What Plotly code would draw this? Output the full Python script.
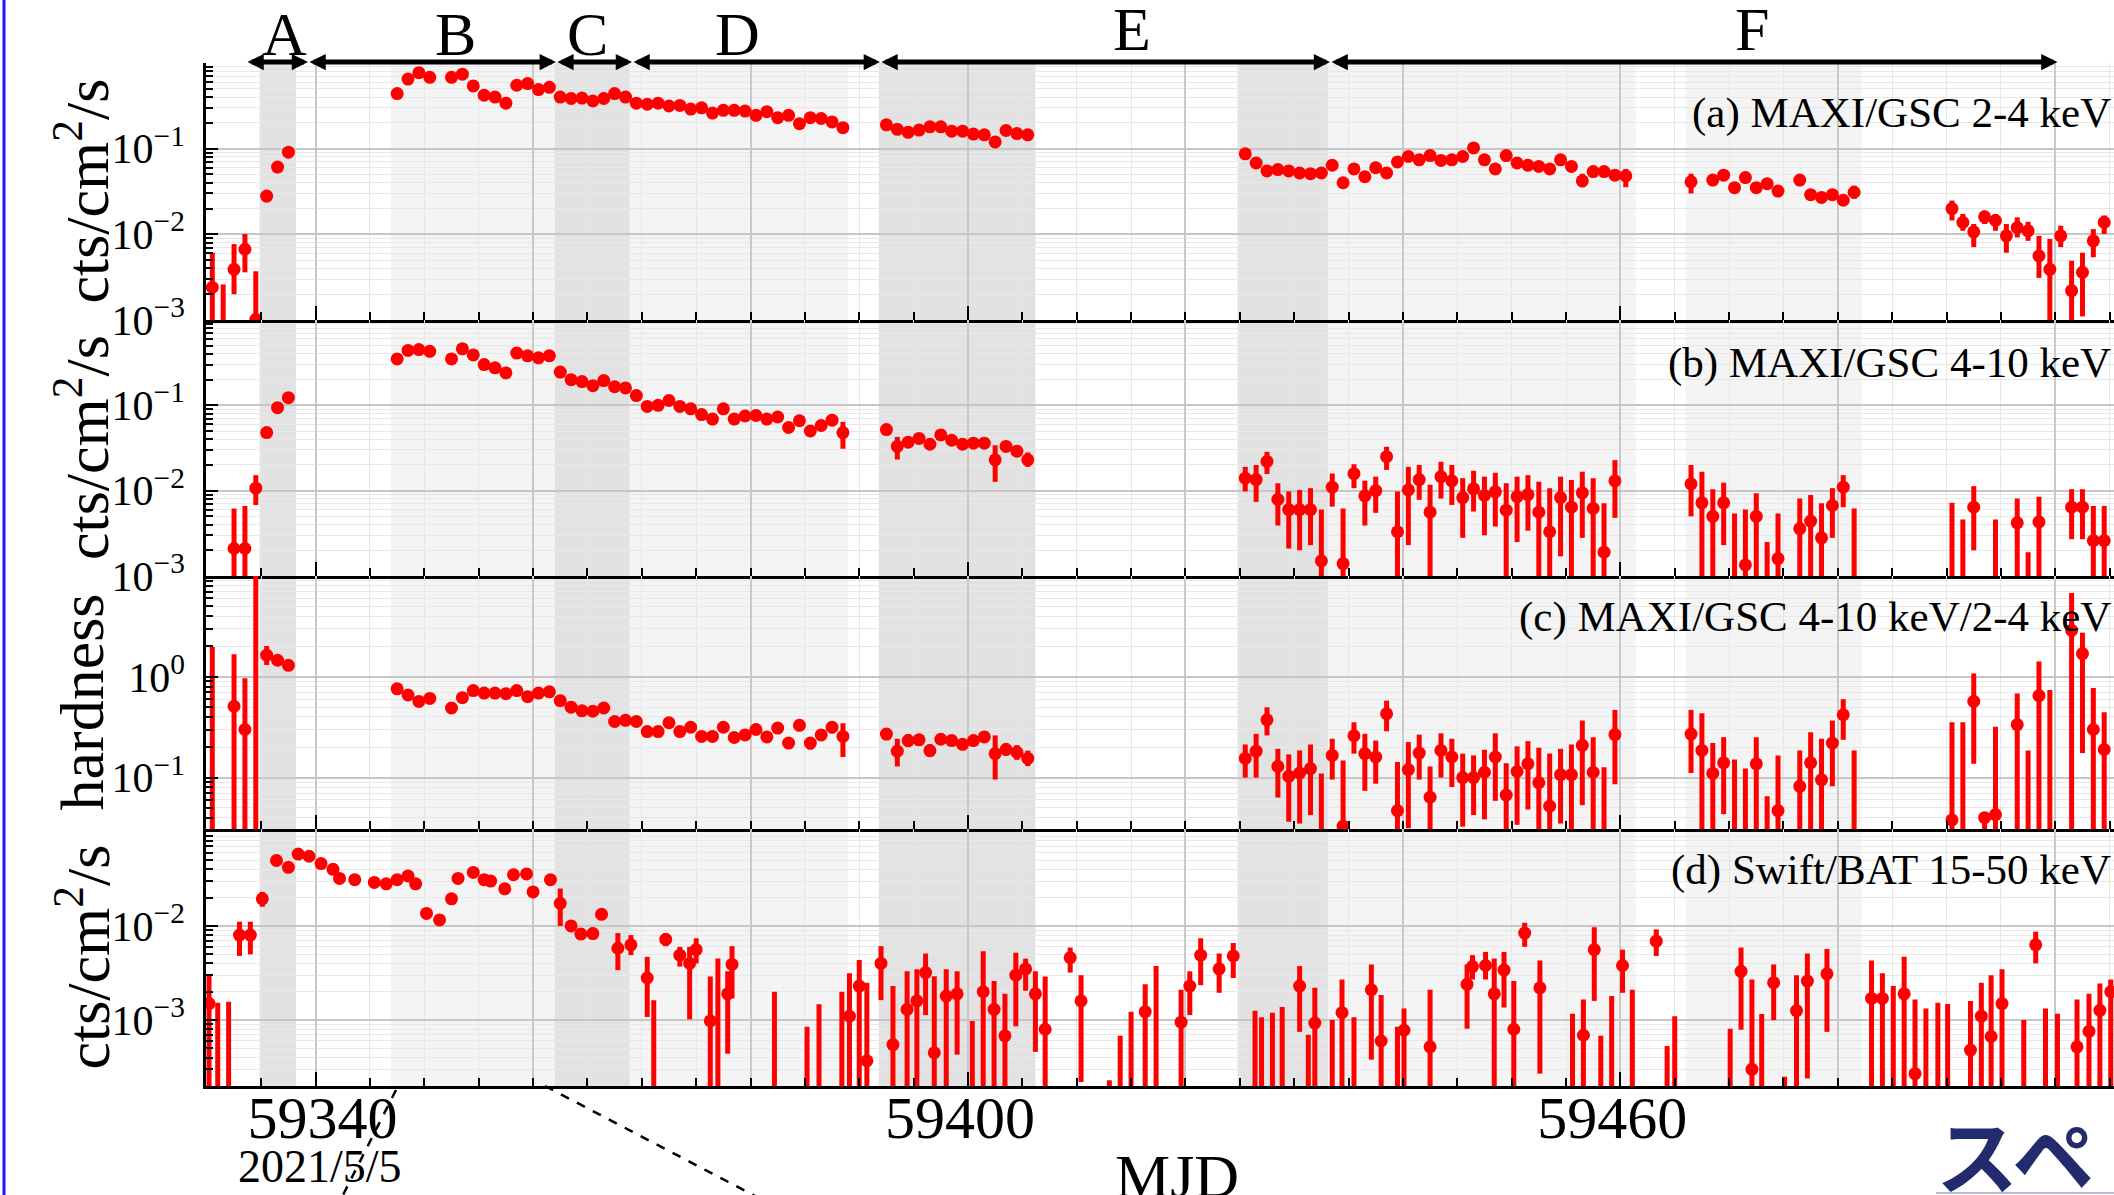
import plotly.graph_objects as go

# ---------------- data ----------------
# each tuple: (MJD, value, lower bound of error bar or None, upper bound or None)
a_pts = [
    (59330.5, 0.0024, 1e-4, 0.0061), (59331.5, 0.0007, 1e-4, 0.0026), (59332.5, 0.0039, 0.0020, 0.0077),
    (59333.5, 0.0067, 0.0036, 0.0101), (59334.5, 0.00102, 1e-4, 0.0037), (59335.5, 0.028, 0.0237, 0.032),
    (59336.5, 0.061, None, None), (59337.5, 0.091, None, None),
    (59347.5, 0.44, None, None), (59348.5, 0.65, None, None), (59349.5, 0.77, None, None),
    (59350.5, 0.68, None, None), (59352.5, 0.68, None, None), (59353.5, 0.74, None, None),
    (59354.5, 0.54, None, None), (59355.5, 0.42, None, None), (59356.5, 0.40, None, None),
    (59357.5, 0.34, None, None), (59358.5, 0.55, None, None), (59359.5, 0.575, None, None),
    (59360.5, 0.49, None, None), (59361.5, 0.52, None, None), (59362.5, 0.40, None, None),
    (59363.5, 0.385, None, None), (59364.5, 0.39, None, None), (59365.5, 0.36, None, None),
    (59366.5, 0.385, None, None), (59367.5, 0.44, None, None), (59368.5, 0.40, None, None),
    (59369.5, 0.34, None, None), (59370.5, 0.33, None, None), (59371.5, 0.34, None, None),
    (59372.5, 0.315, None, None), (59373.5, 0.32, None, None), (59374.5, 0.29, None, None),
    (59375.5, 0.30, None, None), (59376.5, 0.26, None, None), (59377.5, 0.28, None, None),
    (59378.5, 0.28, None, None), (59379.5, 0.275, None, None), (59380.5, 0.245, None, None),
    (59381.5, 0.27, None, None), (59382.5, 0.23, None, None), (59383.5, 0.245, None, None),
    (59384.5, 0.196, None, None), (59385.5, 0.23, None, None), (59386.5, 0.225, None, None),
    (59387.5, 0.205, None, None), (59388.5, 0.176, None, None),
    (59392.5, 0.19, None, None), (59393.5, 0.168, None, None), (59394.5, 0.155, None, None),
    (59395.5, 0.165, None, None), (59396.5, 0.18, None, None), (59397.5, 0.18, None, None),
    (59398.5, 0.16, None, None), (59399.5, 0.16, None, None), (59400.5, 0.148, None, None),
    (59401.5, 0.145, None, None), (59402.5, 0.12, None, None), (59403.5, 0.163, None, None),
    (59404.5, 0.15, None, None), (59405.5, 0.145, None, None),
    (59425.5, 0.087, None, None), (59426.5, 0.068, None, None), (59427.5, 0.055, None, None),
    (59428.5, 0.057, None, None), (59429.5, 0.055, None, None), (59430.5, 0.052, None, None),
    (59431.5, 0.051, None, None), (59432.5, 0.052, None, None), (59433.5, 0.064, None, None),
    (59434.5, 0.040, None, None), (59435.5, 0.058, None, None), (59436.5, 0.047, None, None),
    (59437.5, 0.060, None, None), (59438.5, 0.052, None, None), (59439.5, 0.070, None, None),
    (59440.5, 0.081, None, None), (59441.5, 0.074, None, None), (59442.5, 0.083, None, None),
    (59443.5, 0.073, None, None), (59444.5, 0.074, None, None), (59445.5, 0.081, None, None),
    (59446.5, 0.102, None, None), (59447.5, 0.074, None, None), (59448.5, 0.058, None, None),
    (59449.5, 0.083, None, None), (59450.5, 0.068, None, None), (59451.5, 0.064, None, None),
    (59452.5, 0.062, None, None), (59453.5, 0.058, 0.051, 0.066), (59454.5, 0.074, None, None),
    (59455.5, 0.062, None, None), (59456.5, 0.042, 0.0355, 0.051), (59457.5, 0.054, None, None),
    (59458.5, 0.054, None, None), (59459.5, 0.049, 0.044, 0.055), (59460.5, 0.048, 0.0355, 0.058),
    (59466.5, 0.041, 0.030, 0.051), (59468.5, 0.043, None, None), (59469.5, 0.049, None, None),
    (59470.5, 0.035, None, None), (59471.5, 0.046, None, None), (59472.5, 0.035, None, None),
    (59473.5, 0.039, None, None), (59474.5, 0.032, None, None), (59476.5, 0.043, None, None),
    (59477.5, 0.029, None, None), (59478.5, 0.027, None, None), (59479.5, 0.029, None, None),
    (59480.5, 0.025, None, None), (59481.5, 0.031, 0.026, 0.037),
    (59490.5, 0.020, 0.0145, 0.0248), (59491.5, 0.0138, 0.011, 0.0173), (59492.5, 0.0107, 0.0071, 0.0132),
    (59493.5, 0.016, 0.0132, 0.0189), (59494.5, 0.0145, 0.011, 0.0173), (59495.5, 0.0096, 0.0061, 0.0132),
    (59496.5, 0.012, 0.0092, 0.0158), (59497.5, 0.011, 0.0084, 0.014), (59498.5, 0.0056, 0.0031, 0.0096),
    (59499.5, 0.0039, 1e-4, 0.0088), (59500.5, 0.0096, 0.0071, 0.0126), (59501.5, 0.0022, 1e-4, 0.0049),
    (59502.5, 0.0036, 0.0011, 0.0061), (59503.5, 0.0084, 0.0054, 0.0115), (59504.5, 0.0138, 0.0101, 0.0166),
]

b_pts = [
    (59332.5, 0.0021, 1e-4, 0.0062), (59333.5, 0.0021, 1e-4, 0.0066), (59334.5, 0.0107, 0.0068, 0.0152),
    (59335.5, 0.048, None, None), (59336.5, 0.094, None, None), (59337.5, 0.123, None, None),
    (59347.5, 0.35, None, None), (59348.5, 0.44, None, None), (59349.5, 0.45, None, None),
    (59350.5, 0.43, None, None), (59352.5, 0.35, None, None), (59353.5, 0.46, None, None),
    (59354.5, 0.39, None, None), (59355.5, 0.30, None, None), (59356.5, 0.275, None, None),
    (59357.5, 0.24, None, None), (59358.5, 0.41, None, None), (59359.5, 0.38, None, None),
    (59360.5, 0.36, None, None), (59361.5, 0.38, None, None), (59362.5, 0.245, None, None),
    (59363.5, 0.20, None, None), (59364.5, 0.19, None, None), (59365.5, 0.17, None, None),
    (59366.5, 0.195, None, None), (59367.5, 0.165, None, None), (59368.5, 0.16, None, None),
    (59369.5, 0.13, None, None), (59370.5, 0.097, None, None), (59371.5, 0.10, None, None),
    (59372.5, 0.114, None, None), (59373.5, 0.097, None, None), (59374.5, 0.091, None, None),
    (59375.5, 0.078, None, None), (59376.5, 0.069, None, None), (59377.5, 0.091, None, None),
    (59378.5, 0.069, None, None), (59379.5, 0.075, None, None), (59380.5, 0.076, None, None),
    (59381.5, 0.069, None, None), (59382.5, 0.073, None, None), (59383.5, 0.055, 0.049, 0.062),
    (59384.5, 0.066, 0.059, 0.074), (59385.5, 0.050, 0.044, 0.057), (59386.5, 0.058, 0.052, 0.065),
    (59387.5, 0.067, 0.060, 0.075), (59388.5, 0.048, 0.031, 0.064),
    (59392.5, 0.052, 0.046, 0.059), (59393.5, 0.033, 0.0232, 0.0427), (59394.5, 0.037, 0.032, 0.043),
    (59395.5, 0.041, None, None), (59396.5, 0.035, 0.030, 0.041), (59397.5, 0.045, None, None),
    (59398.5, 0.039, None, None), (59399.5, 0.035, None, None), (59400.5, 0.036, None, None),
    (59401.5, 0.036, None, None), (59402.5, 0.023, 0.0127, 0.034), (59403.5, 0.033, 0.029, 0.038),
    (59404.5, 0.029, 0.025, 0.034), (59405.5, 0.023, 0.019, 0.028),
    (59425.5, 0.014, 0.0098, 0.019), (59426.5, 0.0135, 0.0074, 0.020), (59427.5, 0.022, 0.0157, 0.0285),
    (59428.5, 0.0079, 0.0039, 0.0122), (59429.5, 0.006, 0.0021, 0.0098), (59430.5, 0.006, 0.002, 0.0102),
    (59431.5, 0.006, 0.0023, 0.0107), (59432.5, 0.0015, 1e-4, 0.006), (59433.5, 0.011, 0.0065, 0.0159),
    (59434.5, 0.0014, 1e-4, 0.0062), (59435.5, 0.0158, 0.0107, 0.0204), (59436.5, 0.0087, 0.0039, 0.0131),
    (59437.5, 0.010, 0.0055, 0.0146), (59438.5, 0.025, 0.0175, 0.0327), (59439.5, 0.0033, 1e-4, 0.0098),
    (59440.5, 0.0102, 0.0023, 0.019), (59441.5, 0.0135, 0.0078, 0.020), (59442.5, 0.0056, 1e-4, 0.0117),
    (59443.5, 0.0146, 0.0081, 0.0218), (59444.5, 0.013, 0.0068, 0.020), (59445.5, 0.0083, 0.0028, 0.014),
    (59446.5, 0.0105, 0.0057, 0.0171), (59447.5, 0.0088, 0.003, 0.0146), (59448.5, 0.0097, 0.0038, 0.0162),
    (59449.5, 0.0059, 1e-4, 0.0122), (59450.5, 0.0085, 0.0025, 0.0146), (59451.5, 0.009, 0.0034, 0.0152),
    (59452.5, 0.0056, 1e-4, 0.0127), (59453.5, 0.0033, 1e-4, 0.0107), (59454.5, 0.0083, 0.0017, 0.0146),
    (59455.5, 0.0064, 1e-4, 0.0133), (59456.5, 0.0094, 0.0028, 0.0167), (59457.5, 0.0062, 1e-4, 0.014),
    (59458.5, 0.0019, 1e-4, 0.0071), (59459.5, 0.013, 0.0048, 0.0228),
    (59466.5, 0.012, 0.005, 0.020), (59467.5, 0.0072, 1e-4, 0.0167), (59468.5, 0.005, 1e-4, 0.0104),
    (59469.5, 0.0072, 0.0023, 0.0124), (59470.5, 0.0008, 1e-4, 0.0054), (59471.5, 0.00135, 1e-4, 0.006),
    (59472.5, 0.005, 1e-4, 0.0093), (59473.5, 0.0008, 1e-4, 0.0025), (59474.5, 0.0016, 1e-4, 0.0054),
    (59476.5, 0.0036, 1e-4, 0.0081), (59477.5, 0.0044, 1e-4, 0.0089), (59478.5, 0.0028, 1e-4, 0.0071),
    (59479.5, 0.0067, 0.0028, 0.0107), (59480.5, 0.011, 0.0064, 0.0152), (59481.5, 0.0008, 1e-4, 0.0062),
    (59490.5, 0.0008, 1e-4, 0.0072), (59491.5, 0.0008, 1e-4, 0.0046), (59492.5, 0.0064, 0.002, 0.0113),
    (59494.5, 0.0008, 1e-4, 0.0046), (59496.5, 0.0042, 1e-4, 0.0081), (59497.5, 0.0005, 1e-4, 0.0019),
    (59498.5, 0.0043, 1e-4, 0.0085), (59501.5, 0.0064, 0.0027, 0.0104), (59502.5, 0.0064, 0.0027, 0.0104),
    (59503.5, 0.0026, 1e-4, 0.0066), (59504.5, 0.0026, 1e-4, 0.0066),
]

c_pts = [
    (59330.5, 0.02, 0.001, 1.98), (59332.5, 0.51, 0.001, 1.67), (59333.5, 0.30, 0.001, 0.97),
    (59334.5, 20.0, 0.001, 100.0), (59335.5, 1.64, 1.31, 2.02), (59336.5, 1.46, None, None),
    (59337.5, 1.30, None, None),
    (59347.5, 0.76, None, None), (59348.5, 0.66, None, None), (59349.5, 0.57, None, None),
    (59350.5, 0.61, None, None), (59352.5, 0.49, None, None), (59353.5, 0.62, None, None),
    (59354.5, 0.73, None, None), (59355.5, 0.69, None, None), (59356.5, 0.69, None, None),
    (59357.5, 0.68, None, None), (59358.5, 0.73, None, None), (59359.5, 0.635, None, None),
    (59360.5, 0.69, None, None), (59361.5, 0.71, None, None), (59362.5, 0.58, None, None),
    (59363.5, 0.50, None, None), (59364.5, 0.46, None, None), (59365.5, 0.455, None, None),
    (59366.5, 0.49, None, None), (59367.5, 0.36, None, None), (59368.5, 0.37, None, None),
    (59369.5, 0.36, None, None), (59370.5, 0.286, None, None), (59371.5, 0.286, None, None),
    (59372.5, 0.35, None, None), (59373.5, 0.286, None, None), (59374.5, 0.316, None, None),
    (59375.5, 0.256, None, None), (59376.5, 0.256, None, None), (59377.5, 0.316, None, None),
    (59378.5, 0.25, None, None), (59379.5, 0.265, None, None), (59380.5, 0.30, None, None),
    (59381.5, 0.253, None, None), (59382.5, 0.31, None, None), (59383.5, 0.22, 0.195, 0.25),
    (59384.5, 0.33, 0.29, 0.37), (59385.5, 0.22, 0.19, 0.25), (59386.5, 0.265, 0.235, 0.30),
    (59387.5, 0.316, 0.275, 0.36), (59388.5, 0.256, 0.16, 0.346),
    (59392.5, 0.27, 0.235, 0.31), (59393.5, 0.183, 0.129, 0.243), (59394.5, 0.233, 0.2, 0.27),
    (59395.5, 0.237, None, None), (59396.5, 0.185, 0.16, 0.215), (59397.5, 0.24, None, None),
    (59398.5, 0.233, None, None), (59399.5, 0.214, None, None), (59400.5, 0.233, None, None),
    (59401.5, 0.253, None, None), (59402.5, 0.173, 0.0956, 0.262), (59403.5, 0.19, 0.165, 0.22),
    (59404.5, 0.178, 0.15, 0.21), (59405.5, 0.155, 0.13, 0.185),
    (59425.5, 0.155, 0.1, 0.213), (59426.5, 0.183, 0.1, 0.272), (59427.5, 0.374, 0.262, 0.498),
    (59428.5, 0.129, 0.0634, 0.193), (59429.5, 0.103, 0.0365, 0.17), (59430.5, 0.111, 0.035, 0.186),
    (59431.5, 0.123, 0.0425, 0.213), (59432.5, 0.02, 0.001, 0.11), (59433.5, 0.166, 0.0956, 0.243),
    (59434.5, 0.033, 0.001, 0.148), (59435.5, 0.26, 0.173, 0.354), (59436.5, 0.173, 0.0738, 0.272),
    (59437.5, 0.16, 0.087, 0.233), (59438.5, 0.43, 0.288, 0.58), (59439.5, 0.047, 0.001, 0.1426),
    (59440.5, 0.12, 0.0315, 0.225), (59441.5, 0.175, 0.0956, 0.267), (59442.5, 0.064, 0.001, 0.129),
    (59443.5, 0.186, 0.1, 0.275), (59444.5, 0.16, 0.0807, 0.243), (59445.5, 0.10, 0.0326, 0.173),
    (59446.5, 0.10, 0.0425, 0.166), (59447.5, 0.113, 0.0385, 0.189), (59448.5, 0.16, 0.0588, 0.275),
    (59449.5, 0.067, 0.001, 0.139), (59450.5, 0.115, 0.034, 0.204), (59451.5, 0.137, 0.0483, 0.23),
    (59452.5, 0.089, 0.001, 0.198), (59453.5, 0.052, 0.001, 0.173), (59454.5, 0.107, 0.035, 0.193),
    (59455.5, 0.107, 0.001, 0.213), (59456.5, 0.209, 0.0533, 0.368), (59457.5, 0.113, 0.001, 0.252),
    (59458.5, 0.02, 0.001, 0.127), (59459.5, 0.267, 0.0859, 0.469),
    (59466.5, 0.27, 0.111, 0.469), (59467.5, 0.186, 0.001, 0.434), (59468.5, 0.11, 0.001, 0.22),
    (59469.5, 0.14, 0.0434, 0.252), (59470.5, 0.02, 0.001, 0.151), (59471.5, 0.02, 0.001, 0.123),
    (59472.5, 0.137, 0.001, 0.252), (59473.5, 0.02, 0.001, 0.0654), (59474.5, 0.047, 0.001, 0.166),
    (59476.5, 0.082, 0.001, 0.186), (59477.5, 0.14, 0.001, 0.282), (59478.5, 0.095, 0.001, 0.243),
    (59479.5, 0.22, 0.082, 0.368), (59480.5, 0.42, 0.237, 0.60), (59481.5, 0.02, 0.001, 0.186),
    (59490.5, 0.038, 0.001, 0.354), (59491.5, 0.02, 0.001, 0.354), (59492.5, 0.57, 0.137, 1.08),
    (59493.5, 0.04, 0.001, 0.045), (59494.5, 0.043, 0.001, 0.32), (59496.5, 0.336, 0.001, 0.684),
    (59497.5, 0.02, 0.001, 0.186), (59498.5, 0.65, 0.001, 1.42), (59499.5, 0.02, 0.001, 0.74),
    (59501.5, 2.89, 0.001, 6.8), (59502.5, 1.70, 0.175, 2.74), (59503.5, 0.30, 0.001, 0.773),
    (59504.5, 0.19, 0.001, 0.444),
]

d_pts = [
    (59330.2, 0.0015, 1e-6, 0.003), (59331.0, 5e-5, 1e-6, 0.00153), (59332.0, 5e-5, 1e-6, 0.00157),
    (59333.0, 0.008, 0.0048, 0.0111), (59334.0, 0.008, 0.005, 0.0111), (59335.1, 0.0194, 0.016, 0.023),
    (59336.4, 0.0496, None, None), (59337.5, 0.042, None, None), (59338.4, 0.058, None, None),
    (59339.4, 0.055, None, None), (59340.5, 0.046, None, None), (59341.6, 0.040, None, None),
    (59342.2, 0.032, None, None), (59343.6, 0.031, None, None), (59345.4, 0.029, None, None),
    (59346.5, 0.028, None, None), (59347.5, 0.031, None, None), (59348.5, 0.034, None, None),
    (59349.2, 0.028, None, None), (59350.2, 0.0136, None, None), (59351.4, 0.0116, None, None),
    (59352.5, 0.0194, None, None), (59353.1, 0.032, None, None), (59354.5, 0.037, None, None),
    (59355.5, 0.031, None, None), (59356.1, 0.030, None, None), (59357.4, 0.0248, None, None),
    (59358.2, 0.035, None, None), (59359.4, 0.0357, None, None), (59360.0, 0.023, None, None),
    (59361.6, 0.031, None, None), (59362.5, 0.0174, 0.010, 0.025), (59363.5, 0.010, None, None),
    (59364.4, 0.0082, None, None), (59365.5, 0.0083, 0.0072, 0.0096), (59366.3, 0.0133, None, None),
    (59367.8, 0.0058, 0.0034, 0.0084), (59369.0, 0.0063, 0.0049, 0.008), (59370.5, 0.0028, 0.00108, 0.0047),
    (59371.1, 5e-5, 1e-6, 0.00163), (59372.2, 0.0072, 0.0061, 0.0084), (59373.5, 0.0049, 0.0037, 0.006),
    (59374.4, 0.0040, 0.00102, 0.006), (59375.0, 0.0056, 0.004, 0.0074),
    (59376.3, 0.00098, 1e-6, 0.0029), (59377.0, 5e-5, 1e-6, 0.0045), (59377.9, 0.0019, 0.00044, 0.0033),
    (59378.3, 0.0039, 0.0017, 0.0061), (59382.2, 5e-5, 1e-6, 0.002), (59385.2, 5e-5, 1e-6, 0.00085),
    (59386.3, 5e-5, 1e-6, 0.00147), (59388.4, 5e-5, 1e-6, 0.002), (59389.1, 0.0011, 1e-6, 0.00314),
    (59390.0, 0.0023, 1e-6, 0.00435), (59390.7, 0.00037, 1e-6, 0.0025), (59392.0, 0.004, 0.00163, 0.0061),
    (59393.1, 0.00055, 1e-6, 0.0023), (59394.4, 0.0013, 1e-6, 0.0033), (59395.3, 0.0016, 1e-6, 0.00347),
    (59396.1, 0.0032, 0.00113, 0.0051), (59396.9, 0.00045, 1e-6, 0.00293), (59398.0, 0.0018, 1e-6, 0.00347),
    (59399.0, 0.0019, 0.00043, 0.0033), (59400.4, 5e-5, 1e-6, 0.00098), (59401.4, 0.002, 1e-6, 0.0054),
    (59402.4, 0.0013, 1e-6, 0.0026), (59403.4, 0.00068, 1e-6, 0.0019), (59404.4, 0.003, 0.00086, 0.0052),
    (59405.3, 0.0035, 0.00205, 0.0045), (59406.2, 0.0019, 0.00046, 0.0033), (59407.1, 0.0008, 1e-6, 0.0029),
    (59409.4, 0.0046, 0.0032, 0.0059), (59410.4, 0.0016, 0.00022, 0.003), (59413.0, 5e-5, 1e-6, 0.00023),
    (59414.0, 5e-5, 1e-6, 0.00068), (59415.0, 5e-5, 1e-6, 0.00123), (59416.3, 0.00123, 1e-6, 0.0024),
    (59417.3, 5e-5, 1e-6, 0.00375), (59419.6, 0.00095, 1e-6, 0.0021), (59420.4, 0.0023, 0.00113, 0.0033),
    (59421.4, 0.0049, 0.00235, 0.0074), (59423.1, 0.0035, 0.00195, 0.0051), (59424.4, 0.0048, 0.0028, 0.0066),
    (59426.4, 5e-5, 1e-6, 0.00126), (59427.0, 5e-5, 1e-6, 0.00107), (59428.0, 5e-5, 1e-6, 0.0012),
    (59428.9, 5e-5, 1e-6, 0.00138), (59430.5, 0.0023, 0.00075, 0.00375), (59431.3, 5e-5, 1e-6, 0.0007),
    (59431.9, 0.00093, 1e-6, 0.0022), (59433.5, 5e-5, 1e-6, 0.001), (59434.4, 0.0012, 1e-6, 0.0027),
    (59435.5, 5e-5, 1e-6, 0.00107), (59437.1, 0.0021, 0.00038, 0.0039), (59438.0, 0.0006, 1e-6, 0.00185),
    (59439.5, 5e-5, 1e-6, 0.00085), (59440.1, 0.00078, 1e-6, 0.00133),
    (59442.5, 0.00052, 1e-6, 0.0021), (59445.9, 0.0024, 0.00081, 0.0039), (59446.4, 0.0037, 0.0027, 0.0049),
    (59447.6, 0.0038, 0.0027, 0.0053), (59448.4, 0.0019, 1e-6, 0.0045), (59449.3, 0.0034, 0.00136, 0.0053),
    (59450.2, 0.0008, 1e-6, 0.0026), (59451.2, 0.0084, 0.006, 0.0108), (59452.6, 0.0022, 0.00027, 0.0043),
    (59455.6, 5e-5, 1e-6, 0.00117), (59456.6, 0.00069, 1e-6, 0.00166), (59457.6, 0.0056, 0.0016, 0.0097),
    (59458.2, 5e-5, 1e-6, 0.00068), (59459.2, 5e-5, 1e-6, 0.0018), (59460.2, 0.0038, 0.00195, 0.0056),
    (59461.1, 5e-5, 1e-6, 0.0021), (59463.3, 0.0069, 0.0048, 0.0092), (59464.3, 5e-5, 1e-6, 0.00053),
    (59465.0, 5e-5, 1e-6, 0.0011), (59470.1, 5e-5, 1e-6, 0.00081), (59471.1, 0.0033, 0.00079, 0.0059),
    (59472.1, 0.0003, 1e-6, 0.0027), (59473.0, 5e-5, 1e-6, 0.00116), (59474.1, 0.0025, 0.001, 0.0039),
    (59475.1, 5e-5, 1e-6, 0.00025), (59476.2, 0.00126, 1e-6, 0.003), (59477.2, 0.0026, 0.00024, 0.0051),
    (59479.0, 0.0031, 0.00075, 0.0057), (59483.1, 0.0017, 1e-6, 0.0043), (59484.1, 0.0017, 1e-6, 0.00314),
    (59485.1, 5e-5, 1e-6, 0.0023), (59486.1, 0.0019, 1e-6, 0.0047), (59487.1, 0.00027, 1e-6, 0.00166),
    (59488.1, 5e-5, 1e-6, 0.00133), (59489.2, 5e-5, 1e-6, 0.00153), (59490.1, 5e-5, 1e-6, 0.00148),
    (59492.2, 0.00048, 1e-6, 0.0016), (59493.2, 0.0011, 1e-6, 0.0025), (59494.1, 0.00067, 1e-6, 0.003),
    (59495.1, 0.0015, 1e-6, 0.00347), (59497.1, 5e-5, 1e-6, 0.001), (59498.2, 0.0063, 0.004, 0.0087),
    (59499.1, 5e-5, 1e-6, 0.00133), (59500.2, 5e-5, 1e-6, 0.00117), (59502.0, 0.00052, 1e-6, 0.00166),
    (59503.1, 0.00076, 1e-6, 0.0019), (59504.1, 0.00127, 1e-6, 0.00245), (59505.1, 0.002, 1e-6, 0.0027),
]

panel_titles = ["(a) MAXI/GSC 2-4 keV", "(b) MAXI/GSC 4-10 keV",
                "(c) MAXI/GSC 4-10 keV/2-4 keV", "(d) Swift/BAT 15-50 keV"]
y_titles = ["cts/cm<sup>2</sup>/s", "cts/cm<sup>2</sup>/s", "hardness", "cts/cm<sup>2</sup>/s"]

phase_names = ["A", "B", "C", "D", "E", "F"]
phase_edges = [59333.6, 59339.3, 59362.1, 59369.1, 59391.9, 59433.3, 59500.2]
phase_label_mjd = [59337.1, 59352.9, 59365.0, 59378.8, 59415.1, 59472.1]

dark_bands = [(59334.85, 59338.2), (59362.0, 59368.9), (59391.8, 59406.2), (59424.8, 59433.1)]
light_bands = [(59346.9, 59362.0), (59368.9, 59389.0), (59433.1, 59461.4), (59466.0, 59482.2)]

x_major = [59340, 59360, 59380, 59400, 59420, 59440, 59460, 59480, 59500]
x_major_text = ["\u00a0\u00a059340", "", "", "59400", "", "", "59460", "", ""]
x_range = [59329.92, 59505.4]

# ---------------- geometry (pixels of the 2114x1195 page) ----------------
W, H = 2114, 1195
L = 206
PW = W - L


def px_x(p):
    return (p - L) / PW


def px_y(p):
    return 1 - p / H


panels = [
    dict(pts=a_pts, yr=[-3, 0], top=63, bot=320, decades=[-3, -2, -1, 0], show=[True, True, True, False],
         title_y=113),
    dict(pts=b_pts, yr=[-3, 0], top=320, bot=576, decades=[-3, -2, -1, 0], show=[True, True, True, False],
         title_y=363),
    dict(pts=c_pts, yr=[-1.51, 1.0], top=576, bot=829, decades=[-1, 0, 1], show=[True, True, False],
         title_y=617),
    dict(pts=d_pts, yr=[-3.70, -0.97], top=829, bot=1086, decades=[-3, -2], show=[True, True],
         title_y=870),
]

SERIF = "Liberation Serif, Times New Roman, serif"
RED = "#ff0000"

fig = go.Figure()
layout = dict(
    width=W, height=H,
    margin=dict(l=L, r=0, t=0, b=0, pad=0),
    paper_bgcolor="white", plot_bgcolor="rgba(0,0,0,0)",
    showlegend=False,
    font=dict(family=SERIF, color="black"),
)

annotations = []
shapes = []

for i, p in enumerate(panels, start=1):
    xs = [t[0] for t in p["pts"]]
    ys = [t[1] for t in p["pts"]]
    plus = [(t[3] - t[1]) if t[3] is not None else 0 for t in p["pts"]]
    minus = [(t[1] - t[2]) if t[2] is not None else 0 for t in p["pts"]]
    sfx = "" if i == 1 else str(i)
    fig.add_trace(go.Scatter(
        x=xs, y=ys, mode="markers",
        marker=dict(color=RED, size=13, line=dict(width=0)),
        error_y=dict(type="data", symmetric=False, array=plus, arrayminus=minus,
                     color=RED, thickness=5, width=0),
        xaxis="x" + sfx, yaxis="y" + sfx, hoverinfo="skip",
    ))

    layout["xaxis" + sfx] = dict(
        domain=[0, 1], range=x_range, anchor="y" + sfx,
        showline=True, linecolor="black", linewidth=2.5,
        tickmode="array", tickvals=x_major, ticktext=x_major_text,
        showticklabels=(i == 4), ticks="inside", ticklen=14, tickwidth=2, tickcolor="black",
        tickfont=dict(family=SERIF, size=60, color="black"),
        ticklabelstandoff=-23, ticklabelshift=-8,
        showgrid=True, gridcolor="#c9c9c9", gridwidth=1.6,
        zeroline=False, automargin=False,
        minor=dict(tickmode="array", tickvals=list(range(59330, 59506, 5)),
                   ticks="inside", ticklen=8, tickwidth=2, tickcolor="black",
                   showgrid=True, gridcolor="#e6e6e6", gridwidth=1.4),
    )

    dec = p["decades"]
    majors = [10.0 ** d for d in dec]
    texts = [("10<sup>%s</sup>" % (str(d).replace("-", "\u2212")) if s else "")
             for d, s in zip(dec, p["show"])]
    lo_dec = int(p["yr"][0]) - 1
    hi_dec = int(p["yr"][1]) + 1
    minors = [m * 10.0 ** k for k in range(lo_dec, hi_dec + 1) for m in range(2, 10)]
    layout["yaxis" + sfx] = dict(
        domain=[px_y(p["bot"]), px_y(p["top"])], type="log", range=p["yr"], anchor="x" + sfx,
        showline=True, linecolor="black", linewidth=2.5,
        tickmode="array", tickvals=majors, ticktext=texts,
        ticks="inside", ticklen=12, tickwidth=2, tickcolor="black",
        tickfont=dict(family=SERIF, size=42, color="black"),
        ticklabelstandoff=10,
        showgrid=True, gridcolor="#c6c6c6", gridwidth=1.6,
        zeroline=False, automargin=False,
        minor=dict(tickmode="array", tickvals=minors, ticks="inside", ticklen=7, tickwidth=1.5,
                   tickcolor="black", showgrid=True, gridcolor="#e8e8e8", gridwidth=1.4),
    )

    # panel title (top-right)
    annotations.append(dict(
        text=panel_titles[i - 1], xref="paper", yref="paper",
        x=px_x(2113), y=px_y(p["title_y"]), xanchor="right", yanchor="middle",
        showarrow=False, font=dict(family=SERIF, size=43, color="black")))
    # y-axis title
    annotations.append(dict(
        text=y_titles[i - 1], xref="paper", yref="paper",
        x=px_x(82), y=px_y((p["top"] + p["bot"]) / 2), xanchor="center", yanchor="middle",
        textangle=-90, showarrow=False, font=dict(family=SERIF, size=62, color="black")))

# shaded phase bands (span all four panels)
for x0, x1 in light_bands:
    shapes.append(dict(type="rect", xref="x", yref="paper", x0=x0, x1=x1,
                       y0=px_y(1086), y1=px_y(63), fillcolor="#f4f4f4", line=dict(width=0),
                       layer="below"))
for x0, x1 in dark_bands:
    shapes.append(dict(type="rect", xref="x", yref="paper", x0=x0, x1=x1,
                       y0=px_y(1086), y1=px_y(63), fillcolor="#e2e2e2", line=dict(width=0),
                       layer="below"))

# phase arrows and letters
arrow_y = px_y(62)
for k in range(len(phase_names)):
    annotations.append(dict(
        text="", xref="x", yref="paper", x=phase_edges[k + 1], y=arrow_y,
        axref="x", ax=phase_edges[k], ayref="pixel", ay=0,
        showarrow=True, arrowside="end+start", arrowhead=2, startarrowhead=2,
        arrowsize=0.65, startarrowsize=0.65, arrowwidth=5, arrowcolor="black",
        standoff=0, startstandoff=0))
    annotations.append(dict(
        text=phase_names[k], xref="x", yref="paper", x=phase_label_mjd[k],
        y=px_y(34 if k < 4 else 29), xanchor="center", yanchor="middle", showarrow=False,
        font=dict(family=SERIF, size=62, color="black")))

# axis title, date under first tick, slide decorations
annotations.append(dict(text="MJD", xref="paper", yref="paper", x=px_x(1177), y=px_y(1176),
                        xanchor="center", yanchor="middle", showarrow=False,
                        font=dict(family=SERIF, size=62, color="black")))
annotations.append(dict(text="2021/5/5", xref="paper", yref="paper", x=px_x(320), y=px_y(1166),
                        xanchor="center", yanchor="middle", showarrow=False,
                        font=dict(family=SERIF, size=46, color="black")))
annotations.append(dict(text="<b>スペ</b>", xref="paper", yref="paper", x=px_x(1934), y=px_y(1152),
                        xanchor="left", yanchor="middle", showarrow=False,
                        font=dict(family="Noto Sans CJK JP", size=82, color="#232a6e")))

shapes.append(dict(type="line", xref="paper", yref="paper", x0=px_x(4), x1=px_x(4), y0=0, y1=1,
                   line=dict(color="#1a1aff", width=3)))
shapes.append(dict(type="line", xref="paper", yref="paper", x0=px_x(545), y0=px_y(1086),
                   x1=px_x(757), y1=px_y(1197), line=dict(color="black", width=2.5, dash="dash")))
shapes.append(dict(type="line", xref="paper", yref="paper", x0=px_x(396), y0=px_y(1090),
                   x1=px_x(342), y1=px_y(1197), line=dict(color="black", width=2.5, dash="dash")))
shapes.append(dict(type="line", xref="paper", yref="paper", x0=px_x(1936), y0=px_y(1193),
                   x1=px_x(2114), y1=px_y(1193), line=dict(color="#b8b8dc", width=2)))

layout["annotations"] = annotations
layout["shapes"] = shapes
fig.update_layout(**layout)

fig.write_html("out.html", config={"displayModeBar": False},
               post_script="document.body.style.margin='0';document.body.style.overflow='hidden';")
